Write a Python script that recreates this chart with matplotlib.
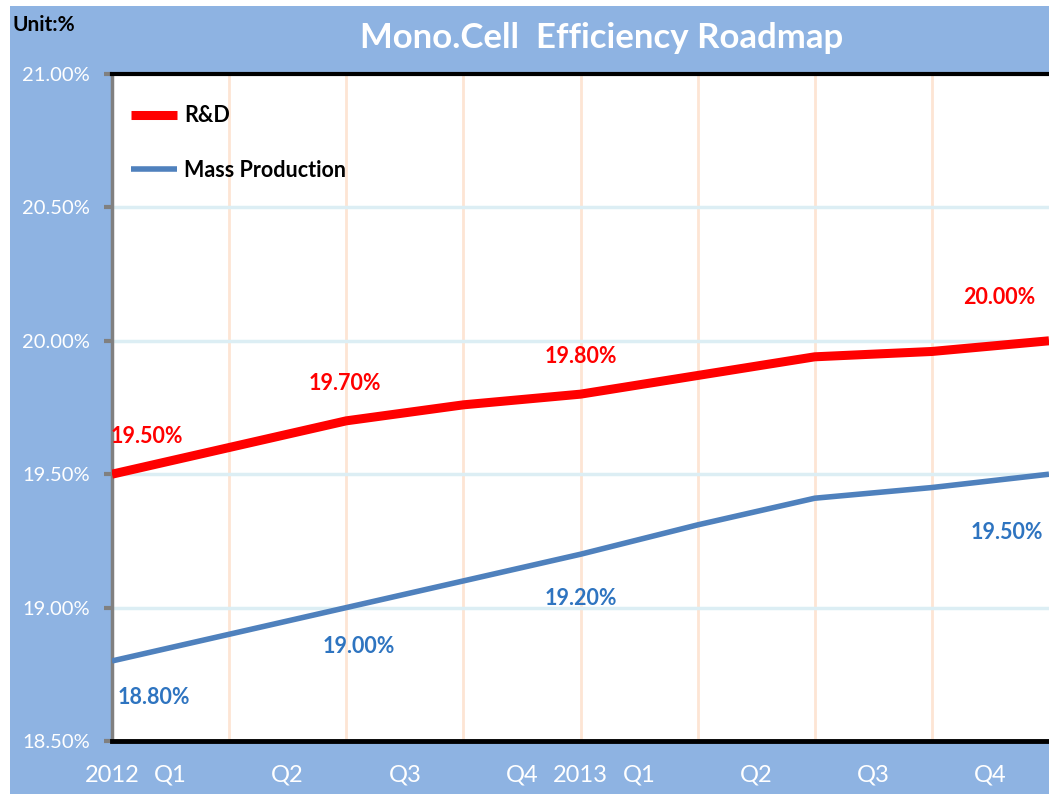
import matplotlib
matplotlib.use("Agg")
import matplotlib.pyplot as plt
from matplotlib.patches import Rectangle

plt.rcParams['font.family'] = ['Lato', 'DejaVu Sans']

# ---- data ----
x_pos = [0, 1, 2, 3, 4, 5, 6, 7, 8]
rd = [19.50, 19.60, 19.70, 19.76, 19.80, 19.87, 19.94, 19.96, 20.00]
mass = [18.80, 18.90, 19.00, 19.10, 19.20, 19.31, 19.41, 19.45, 19.50]
series_names = ["R&D", "Mass Production"]
xtick_pos = [0, 0.5, 1.5, 2.5, 3.5, 4, 4.5, 5.5, 6.5, 7.5]
xtick_labels = ["2012", "Q1", "Q2", "Q3", "Q4", "2013", "Q1", "Q2", "Q3", "Q4"]
yticks = [18.5, 19.0, 19.5, 20.0, 20.5, 21.0]
rd_label_idx = [0, 2, 4, 8]
mass_label_idx = [0, 2, 4, 8]

BG = '#8EB3E2'
RED = '#FF0000'
BLUE = '#4F81BD'
LBLUE = '#2E74C0'

W, H = 1049, 794
fig = plt.figure(figsize=(W / 100, H / 100), dpi=100, facecolor='white')
bg = Rectangle((10 / W, 0), 1, 1 - 6 / H, transform=fig.transFigure,
               facecolor=BG, edgecolor='none', zorder=-10)
fig.patches.append(bg)

ax = fig.add_axes([112 / W, 1 - 741 / H, 1 - 112 / W, (741 - 74) / H])
ax.set_zorder(5)
ax.set_facecolor('white')
ax.set_xlim(0, 8)
ax.set_ylim(18.5, 21.0)

# grid
for xv in x_pos[1:-1]:
    ax.axvline(xv, color='#FDE5D4', lw=2, zorder=1)
for yv in yticks[1:-1]:
    ax.axhline(yv, color='#DCEEF4', lw=2.5, zorder=1)

ax.plot(x_pos, rd, color=RED, lw=6.5, solid_capstyle='butt', label=series_names[0], zorder=3)
ax.plot(x_pos, mass, color=BLUE, lw=4, solid_capstyle='butt', label=series_names[1], zorder=3)

# data labels
rd_offsets = {0: (-1, 27, 'left'), 2: (-1, 27, 'center'), 4: (0, 27, 'center'), 8: (-36, 31, 'center')}
for i in rd_label_idx:
    dx, dy, ha = rd_offsets[i]
    ax.annotate(f"{rd[i]:.2f}%", (x_pos[i], rd[i]), xytext=(dx, dy), textcoords='offset points',
                ha=ha, va='center', color=RED, fontsize=15.5, fontweight='bold', annotation_clip=False)
mass_offsets = {0: (4, -26, 'left'), 2: (9, -28, 'center'), 4: (0, -32, 'center'), 8: (-30, -42, 'center')}
for i in mass_label_idx:
    dx, dy, ha = mass_offsets[i]
    ax.annotate(f"{mass[i]:.2f}%", (x_pos[i], mass[i]), xytext=(dx, dy), textcoords='offset points',
                ha=ha, va='center', color=LBLUE, fontsize=15.5, fontweight='bold', annotation_clip=False)

# axes styling
ax.set_yticks(yticks)
ax.set_yticklabels([f"{v:.2f}%" for v in yticks], color='white', fontsize=14.5)
ax.tick_params(axis='y', length=6, width=3, color='#808080', pad=10, direction='out')
ax.set_xticks(xtick_pos)
ax.set_xticklabels(xtick_labels, color='white', fontsize=17)
ax.tick_params(axis='x', length=0, pad=17)

ax.spines['left'].set_color('#808080')
ax.spines['left'].set_linewidth(2.5)
ax.spines['bottom'].set_color('black')
ax.spines['bottom'].set_linewidth(3.5)
ax.spines['top'].set_color('black')
ax.spines['top'].set_linewidth(3)
ax.spines['right'].set_visible(False)

leg = ax.legend(loc='upper left', frameon=False, fontsize=15.5, handlelength=2.1,
                labelspacing=1.55, bbox_to_anchor=(0.0, 0.982), handletextpad=0.35)
for t in leg.get_texts():
    t.set_fontweight('bold')
    t.set_color('black')

fig.text(602 / W, 1 - 38 / H, "Mono.Cell  Efficiency Roadmap", color='white', fontsize=25,
         fontweight='bold', ha='center', va='center')
fig.text(12 / W, 1 - 25 / H, "Unit:%", color='black', fontsize=15, fontweight='bold',
         ha='left', va='center')

fig.savefig('out.png', dpi=100, facecolor=fig.get_facecolor())
